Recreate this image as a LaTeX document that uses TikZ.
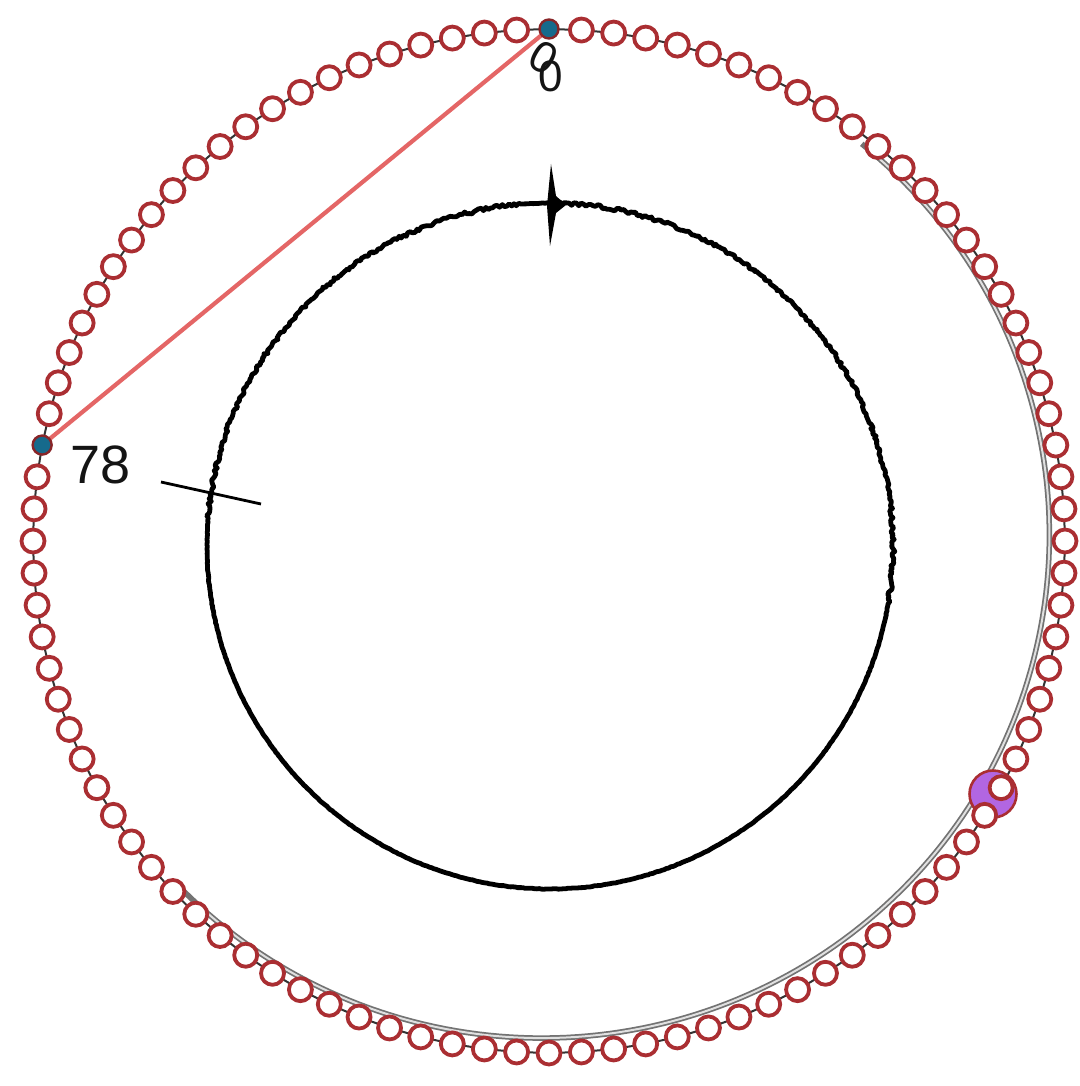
\documentclass[tikz,border=0pt]{standalone}
\usepackage{fontspec}
\setmainfont{Liberation Sans}
\definecolor{ringred}{RGB}{170,46,50}
\definecolor{nodeteal}{RGB}{22,106,140}
\definecolor{linered}{RGB}{228,102,102}
\definecolor{purp}{RGB}{178,102,226}
\begin{document}
\begin{tikzpicture}[x=1pt,y=-1pt,
  ringnode/.style={circle,draw=ringred,line width=3.8pt,fill=white,minimum size=23pt,inner sep=0pt},
  tealnode/.style={circle,draw=ringred!80!black,line width=2.4pt,fill=nodeteal,minimum size=19pt,inner sep=0pt},
  purpnode/.style={circle,draw=ringred,line width=2.6pt,fill=purp,minimum size=47pt,inner sep=0pt},
  chainline/.style={draw=black!80,line width=2pt},
  redline/.style={draw=linered,line width=4.2pt},
  grayouter/.style={draw=black!55,line width=5.5pt},
  grayinner/.style={draw=black!12,line width=2pt},
  innerring/.style={draw=black,line width=4.8pt,line join=round},
  tickline/.style={draw=black,line width=2.8pt},
  lab/.style={inner sep=0pt,text=black!92}]
\useasboundingbox (0,0) rectangle (1079,1086);
\pgfmathsetseed{11}
\def\cx{549}\def\cy{541}\def\rx{516}\def\ry{512}
% ring positions
\foreach \i in {0,...,99}{
  \coordinate (c\i) at ({\cx+\rx*sin(3.6*\i)},{\cy-\ry*cos(3.6*\i)});
}
% gray offset arc
\draw[grayouter] plot[domain=38:226,samples=150]
  ({\cx+(\rx-8-10*sin((\x-38)*0.9574))*sin(\x)},{\cy-(\ry-8-10*sin((\x-38)*0.9574))*cos(\x)});
\draw[grayinner] plot[domain=40:224,samples=150]
  ({\cx+(\rx-8-10*sin((\x-38)*0.9574))*sin(\x)},{\cy-(\ry-8-10*sin((\x-38)*0.9574))*cos(\x)});
% chain between consecutive nodes
\foreach \i [evaluate=\i as \j using {int(mod(\i+1,100))}] in {0,...,99}{
  \draw[chainline] (c\i) -- (c\j);
}
% red chord
\draw[redline] (c0) -- (c78);
% purple marker
\node[purpnode] (pu) at (993,794) {};
% ring nodes
\foreach \i in {1,...,77,79,80,...,99}{
  \node[ringnode] (n\i) at (c\i) {};
}
\node[tealnode] (n0) at (c0) {};
\node[tealnode] (n78) at (c78) {};
% labels
\node[lab,font=\fontsize{54}{54}\selectfont] (l78) at (101,465) {78};
\node[lab,font=\fontsize{44}{44}\selectfont,rotate=-30] (l0b) at (544,58) {0};
\node[lab,font=\fontsize{44}{44}\selectfont] (l0) at (551,76) {0};
% inner noisy circle
\coordinate (ic) at (550,546);
\draw[innerring] plot[domain=0:360,samples=900]
  ({550+(343+(0.3+1.6*((\x<100)+(\x>275)*(\x<355)))*rand)*sin(\x)},
   {546-(343+(0.3+1.6*((\x<100)+(\x>275)*(\x<355)))*rand)*cos(\x)}) -- cycle;
% top spike
\fill[black] (551,164) -- (556,196) -- (566,205) -- (556,213) -- (550,246) -- (547,206) -- cycle;
% left tick
\coordinate (t1) at (161,482);
\coordinate (t2) at (261,504);
\draw[tickline] (t1) -- (t2);
\end{tikzpicture}
\end{document}
